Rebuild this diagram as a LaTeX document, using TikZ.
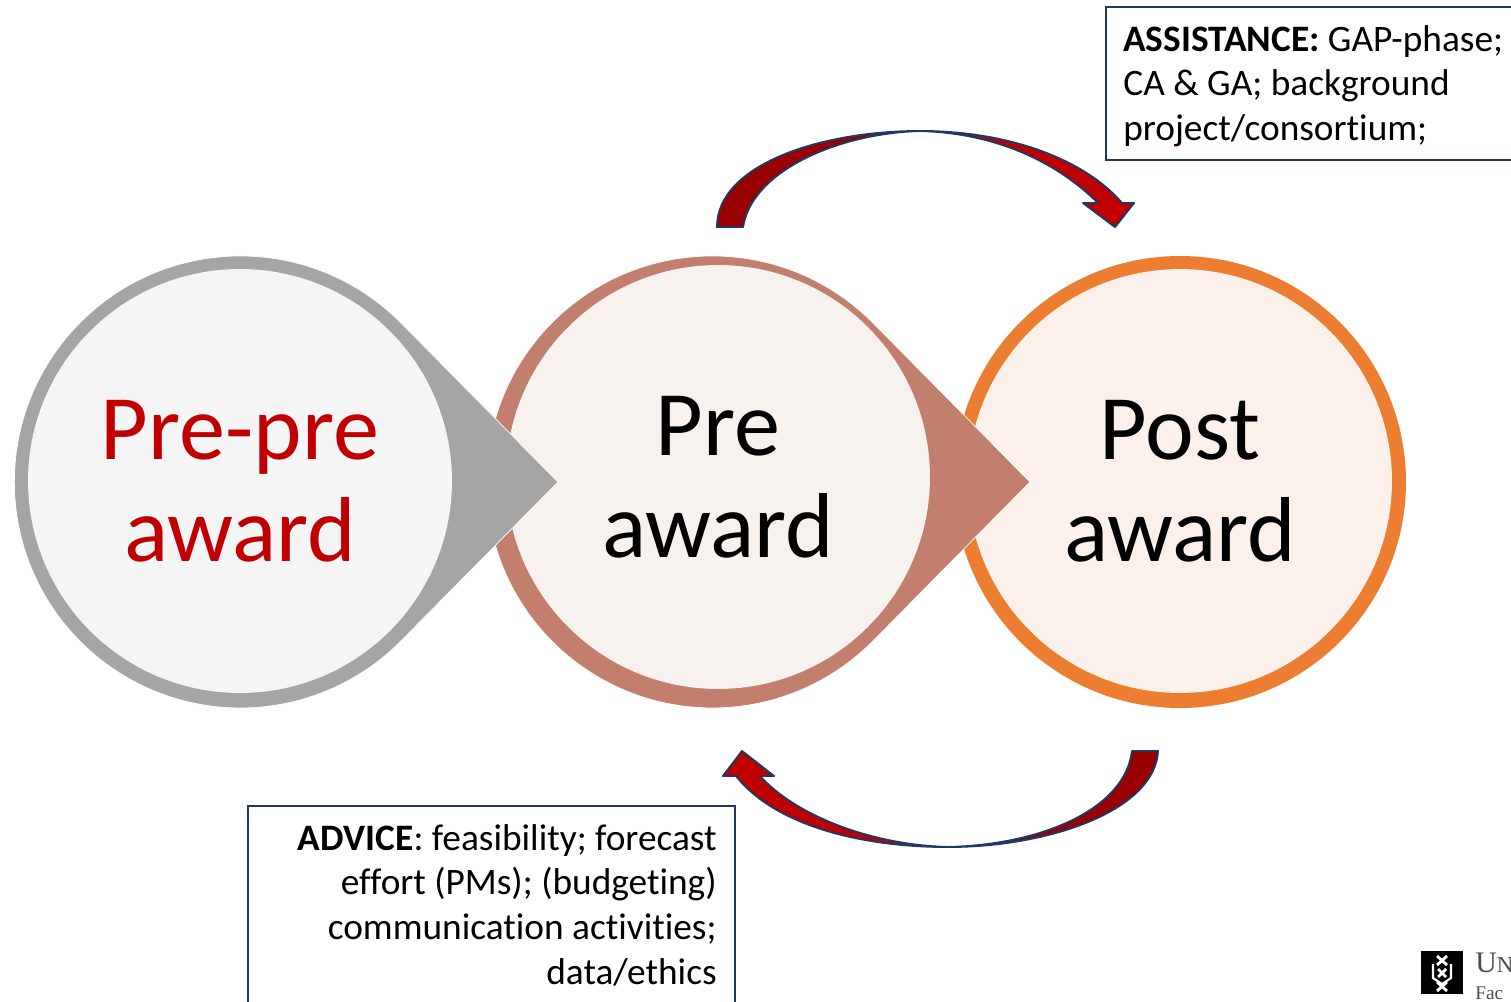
\documentclass[tikz,border=0pt]{standalone}
\usepackage{fontspec}
\setmainfont[Ligatures=NoCommon]{Carlito}
\newfontfamily\logofont{Liberation Serif}
\definecolor{greyring}{HTML}{A5A5A5}
\definecolor{greyfill}{HTML}{F5F5F5}
\definecolor{prering}{HTML}{C27F6D}
\definecolor{prefill}{HTML}{F8F2EF}
\definecolor{postring}{HTML}{ED7D31}
\definecolor{postfill}{HTML}{FBF1EA}
\definecolor{arrowdark}{HTML}{990000}
\definecolor{arrowred}{HTML}{C00000}
\definecolor{navyline}{HTML}{1F3864}
\tikzset{
  stage/.style={circle,inner sep=0pt,minimum size=8.48cm,align=center,
    font=\fontsize{52.5}{57.8}\selectfont},
  drop/.style={draw=white,line width=0.4pt},
  infobox/.style={draw=navyline,line width=0.6pt,fill=white},
  infotext/.style={inner sep=0pt,font=\fontsize{21.25}{25.4}\selectfont},
  bendline/.style={draw=navyline,line width=1.1pt,line join=round}
}
\begin{document}
\begin{tikzpicture}[x=0.02cm,y=-0.02cm]
      \useasboundingbox (0,0) rectangle (1511,1001) ;
      \clip (0,0) rectangle (1511,1001) ;
      % post award
      \fill[postring] (1180,482) circle (226) ;
      \node[stage,fill=postfill] (post) at (1180,481) {Post\\award} ;
      % pre award, its point lies over the next ring
      \draw[drop,fill=prering] (1030,482) -- (873,323) arc (-44.7:-315.3:226) -- cycle ;
      \node[stage,fill=prefill] (pre) at (718,477) {Pre\\award} ;
      % pre-pre award
      \draw[drop,fill=greyring] (558,482) -- (401,323) arc (-44.7:-315.3:226) -- cycle ;
      \node[stage,fill=greyfill,text=arrowred] (prepre) at (240,481) {Pre-pre\\award} ;
      % upper arrow
      \fill[arrowdark] (717,227) .. controls (717,165) and (820,131) .. (920,131)
        .. controls (840,133) and (752,170) .. (743,227) -- cycle ;
      \fill[arrowred] (920,131) .. controls (1010,131) and (1085,160) .. (1122,203)
        -- (1134,203) -- (1115,227) -- (1083,203) -- (1098,203)
        .. controls (1060,165) and (1000,133) .. (920,131) -- cycle ;
      \draw[bendline] (920,131) .. controls (820,131) and (717,165) .. (717,227) -- (743,227)
        .. controls (752,170) and (840,133) .. (920,131)
        .. controls (1000,133) and (1060,165) .. (1098,203) -- (1083,203) -- (1115,227)
        -- (1134,203) -- (1122,203) .. controls (1085,160) and (1010,131) .. (920,131) -- cycle ;
      % lower arrow
      \fill[arrowdark] (1158,751) .. controls (1155,810) and (1050,847) .. (948,847)
        .. controls (1040,845) and (1125,810) .. (1132,751) -- cycle ;
      \fill[arrowred] (948,847) .. controls (860,847) and (775,825) .. (736,776)
        -- (723,776) -- (742,751) -- (774,776) -- (760,776)
        .. controls (795,815) and (870,845) .. (948,847) -- cycle ;
      \draw[bendline] (948,847) .. controls (1050,847) and (1155,810) .. (1158,751) -- (1132,751)
        .. controls (1125,810) and (1040,845) .. (948,847)
        .. controls (870,845) and (795,815) .. (760,776) -- (774,776) -- (742,751)
        -- (723,776) -- (736,776) .. controls (775,825) and (860,847) .. (948,847) -- cycle ;
      % text boxes
      \draw[infobox] (1106,7) rectangle (1530,160) ;
      \node[infotext,anchor=north west,align=left] (assist) at (1123,25)
        {\textbf{ASSISTANCE:} GAP-phase;\\CA \& GA; background\\project/consortium;} ;
      \draw[infobox] (248,806) rectangle (735,1020) ;
      \node[infotext,anchor=north east,align=right] (advice) at (717,824)
        {\textbf{ADVICE}: feasibility; forecast\\effort (PMs); (budgeting)\\communication activities;\\data/ethics} ;
      % logo
      \fill[black] (1421,951) rectangle (1463,994) ;
      \draw[white,line width=1.6pt] (1437,956) -- (1447,965) (1447,956) -- (1437,965)
        (1438,969) -- (1446,977) (1446,969) -- (1438,977)
        (1437,982) -- (1447,991) (1447,982) -- (1437,991) ;
      \draw[white,line width=1.2pt] (1433,964) -- (1433,978) -- (1442,984) -- (1451,978) -- (1451,964) ;
      \node[anchor=base west,inner sep=0pt,text=black!70,font=\logofont\fontsize{17}{17}\selectfont] (logoname) at (1475,972) {U\fontsize{13}{13}\selectfont N} ;
      \node[anchor=base west,inner sep=0pt,text=black!70,font=\logofont\fontsize{11}{11}\selectfont] (logofac) at (1475,999) {Fac} ;
    \end{tikzpicture}
\end{document}
